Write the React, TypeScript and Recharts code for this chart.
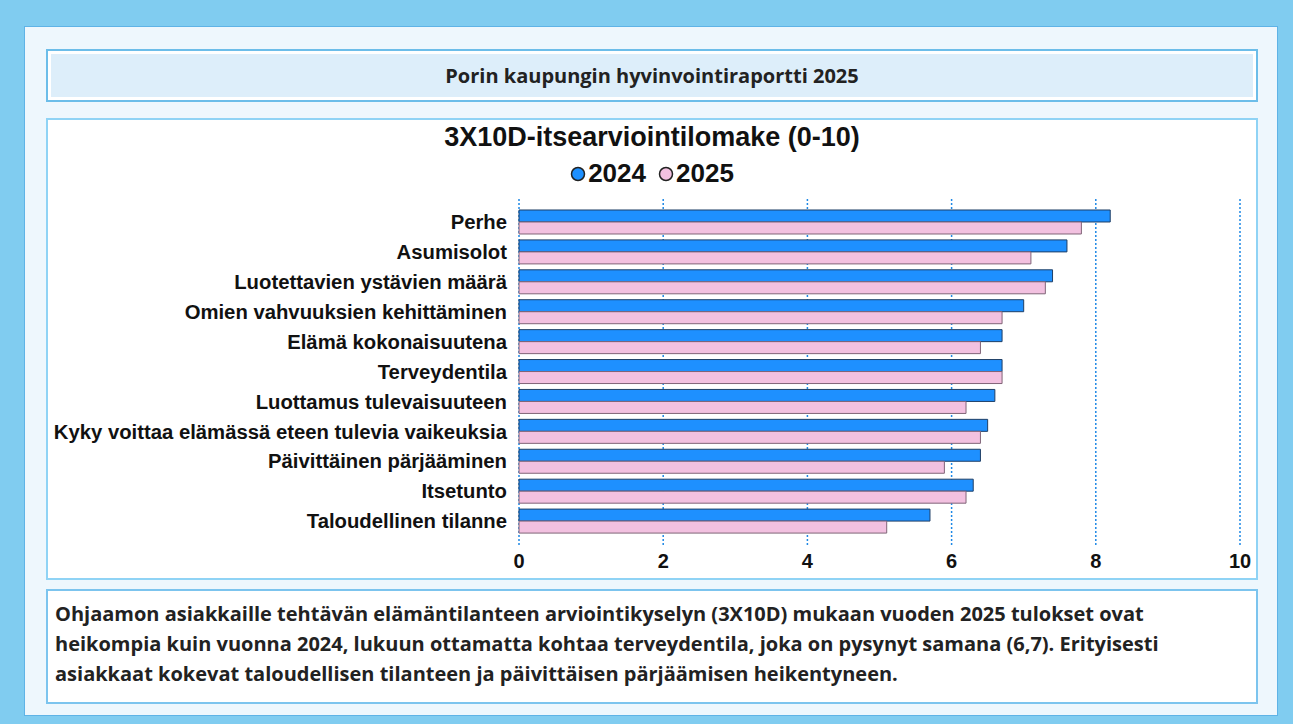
import { BarChart, Bar, XAxis, YAxis, CartesianGrid } from "recharts";

const categories = [
  "Perhe",
  "Asumisolot",
  "Luotettavien ystävien määrä",
  "Omien vahvuuksien kehittäminen",
  "Elämä kokonaisuutena",
  "Terveydentila",
  "Luottamus tulevaisuuteen",
  "Kyky voittaa elämässä eteen tulevia vaikeuksia",
  "Päivittäinen pärjääminen",
  "Itsetunto",
  "Taloudellinen tilanne",
];
const values2024 = [8.2, 7.6, 7.4, 7.0, 6.7, 6.7, 6.6, 6.5, 6.4, 6.3, 5.7];
const values2025 = [7.8, 7.1, 7.3, 6.7, 6.4, 6.7, 6.2, 6.4, 5.9, 6.2, 5.1];
const xTicks = [0, 2, 4, 6, 8, 10];
const seriesNames = ["2024", "2025"];

const data = categories.map((name, i) => ({
  name,
  y2024: values2024[i],
  y2025: values2025[i],
}));

const BLUE = "#1e90ff";
const PINK = "#f2c1e0";
const ARIAL = "'Liberation Sans', Arial, sans-serif";
const BODY = "'Open Sans', 'Noto Sans', sans-serif";

function LegendRow() {
  const colors = [BLUE, PINK];
  return (
    <div
      style={{
        position: "absolute",
        left: 0,
        top: 38,
        width: "100%",
        display: "flex",
        justifyContent: "center",
        gap: 12,
        fontFamily: ARIAL,
      }}
    >
      {seriesNames.map((label, i) => (
        <div key={label} style={{ display: "flex", alignItems: "center" }}>
          <svg width={16} height={16} style={{ marginRight: 2 }}>
            <circle cx={8} cy={8} r={6.5} fill={colors[i]} stroke="#222" strokeWidth={1.5} />
          </svg>
          <span style={{ fontSize: 26, fontWeight: 700, color: "#111" }}>{label}</span>
        </div>
      ))}
    </div>
  );
}

export default function App() {
  return (
    <div style={{ position: "fixed", left: 0, top: 0, width: 1293, height: 724, background: "#80ccf0" }}>
      <div
        style={{
          position: "absolute",
          left: 24,
          top: 26,
          width: 1252,
          height: 688,
          background: "#eef7fd",
          border: "1px solid #5fb3e6",
        }}
      />
      {/* header */}
      <div
        style={{
          position: "absolute",
          left: 46,
          top: 49,
          width: 1208,
          height: 49,
          background: "#ddeefa",
          border: "2px solid #6cbde9",
          boxShadow: "inset 0 0 0 3px #ffffff",
          display: "flex",
          alignItems: "center",
          justifyContent: "center",
          fontFamily: BODY,
          fontWeight: 700,
          fontSize: 20,
          color: "#222",
        }}
      >
        Porin kaupungin hyvinvointiraportti 2025
      </div>
      {/* chart box */}
      <div
        style={{
          position: "absolute",
          left: 46,
          top: 118,
          width: 1208,
          height: 458,
          background: "#fff",
          border: "2px solid #8fd3f5",
        }}
      >
        <div
          style={{
            position: "absolute",
            left: 0,
            top: 2,
            width: "100%",
            textAlign: "center",
            fontFamily: ARIAL,
            fontWeight: 700,
            fontSize: 27,
            color: "#111",
          }}
        >
          3X10D-itsearviointilomake (0-10)
        </div>
        <LegendRow />
        <BarChart
          width={1208}
          height={458}
          data={data}
          layout="vertical"
          margin={{ top: 79, right: 16, left: 0, bottom: 2 }}
          barGap={0}
          barCategoryGap="10%"
        >
          <CartesianGrid
            horizontal={false}
            vertical={true}
            stroke="#1e88e5"
            strokeDasharray="2 2"
            strokeWidth={1.5}
          />
          <XAxis
            type="number"
            domain={[0, 10]}
            ticks={xTicks}
            axisLine={false}
            tickLine={false}
            height={30}
            tick={{ fontSize: 20, fontWeight: 700, fill: "#111", fontFamily: ARIAL }}
          />
          <YAxis
            type="category"
            dataKey="name"
            width={471}
            axisLine={false}
            tickLine={false}
            tickMargin={6}
            padding={{ top: 8, bottom: 10 }}
            tick={{ fontSize: 20.3, fontWeight: 700, fill: "#111", fontFamily: ARIAL }}
          />
          <Bar dataKey="y2024" name={seriesNames[0]} fill={BLUE} stroke="#1f3f66" strokeWidth={1} isAnimationActive={false} />
          <Bar dataKey="y2025" name={seriesNames[1]} fill={PINK} stroke="#806478" strokeWidth={1} isAnimationActive={false} />
        </BarChart>
      </div>
      {/* text box */}
      <div
        style={{
          position: "absolute",
          left: 46,
          top: 589,
          width: 1194,
          height: 95,
          background: "#fff",
          border: "2px solid #7cc4ee",
          padding: "8px 7px",
          fontFamily: BODY,
          fontWeight: 700,
          fontSize: 20,
          lineHeight: "30px",
          color: "#222",
        }}
      >
        Ohjaamon asiakkaille tehtävän elämäntilanteen arviointikyselyn (3X10D) mukaan vuoden 2025 tulokset ovat
        <br />
        heikompia kuin vuonna 2024, lukuun ottamatta kohtaa terveydentila, joka on pysynyt samana (6,7). Erityisesti
        <br />
        asiakkaat kokevat taloudellisen tilanteen ja päivittäisen pärjäämisen heikentyneen.
      </div>
    </div>
  );
}
